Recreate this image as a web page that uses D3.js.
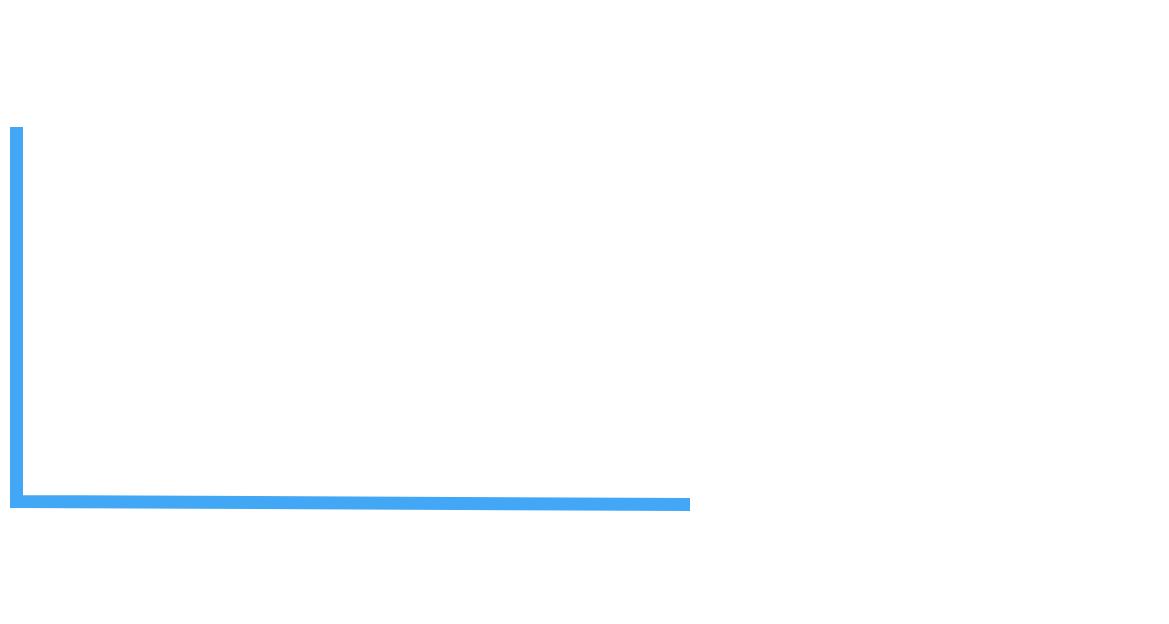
<!DOCTYPE html>
<html>
<head>
<meta charset="utf-8">
<script src="https://cdn.jsdelivr.net/npm/d3@7"></script>
<style>
  html, body { margin: 0; padding: 0; background: #ffffff; }
  svg { display: block; }
</style>
</head>
<body>
<div id="chart"></div>
<script>
const xValues = [0, 0, 100];
const yValues = [100, 0.8, 0];

const width = 1169;
const height = 624;
const svg = d3.select("#chart").append("svg").attr("width", width).attr("height", height);

const x = d3.scaleLinear().domain([0, 100]).range([16.5, 690]);
const y = d3.scaleLinear().domain([0, 100]).range([504.5, 127]);

const points = xValues.map((v, i) => [v, yValues[i]]);
const line = d3.line().x(d => x(d[0])).y(d => y(d[1]));

svg.append("path")
  .datum(points)
  .attr("d", line)
  .attr("fill", "none")
  .attr("stroke", "#42a8f5")
  .attr("stroke-width", 13)
  .attr("stroke-linejoin", "miter")
  .attr("stroke-linecap", "butt");
</script>
</body>
</html>
